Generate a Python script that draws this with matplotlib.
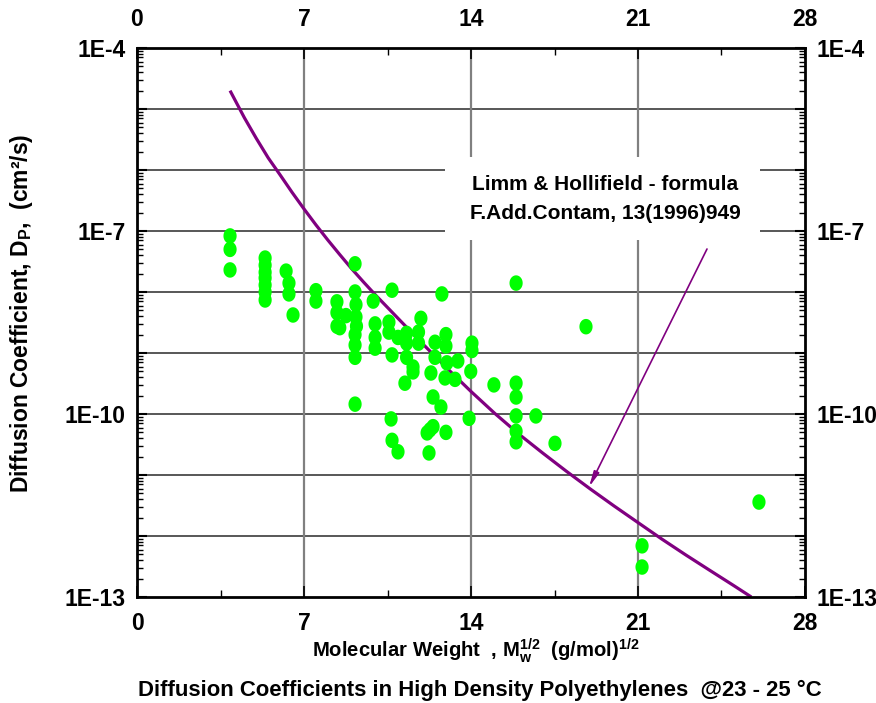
import matplotlib
matplotlib.use("Agg")
import matplotlib.pyplot as plt
import numpy as np
from matplotlib.ticker import FixedLocator, FuncFormatter, LogLocator, NullFormatter
from matplotlib.patches import Rectangle

# ---- data ----
pts_x = [3.9, 3.9, 3.9,
         5.37, 5.37, 5.37, 5.37, 5.37, 5.37, 5.37,
         6.25, 6.37, 6.37, 6.54, 7.5, 7.5,
         8.38, 8.38, 8.38, 8.5, 8.76,
         9.14, 9.14, 9.18, 9.18, 9.2, 9.14, 9.14, 9.14, 9.14,
         9.9, 9.98, 9.98, 9.98,
         10.56, 10.56, 10.69, 10.69, 10.65, 10.69, 10.94, 10.94,
         11.3, 11.3, 11.3, 11.23, 11.57, 11.57, 11.9, 11.8, 11.8,
         12.32, 12.41, 12.74, 12.16, 12.28, 12.41, 12.24, 12.49, 12.49,
         12.78, 12.95, 12.95, 12.99, 12.91, 13.33, 13.45, 12.95,
         14.04, 14.04, 13.99, 13.92, 14.96,
         15.89, 15.89, 15.89, 15.89, 15.89, 15.89,
         16.72, 17.52, 18.82, 21.17, 21.17, 26.07]
pts_d = [8.3e-8, 5.0e-8, 2.3e-8,
         3.6e-8, 2.75e-8, 2.1e-8, 1.7e-8, 1.3e-8, 1.0e-8, 7.4e-9,
         2.2e-8, 1.4e-8, 9.3e-9, 4.2e-9, 1.05e-8, 7.1e-9,
         6.9e-9, 4.6e-9, 2.75e-9, 2.6e-9, 4.1e-9,
         2.9e-8, 1.0e-8, 6.2e-9, 3.9e-9, 2.75e-9, 2.0e-9, 1.35e-9, 8.5e-10, 1.45e-10,
         7.1e-9, 3.0e-9, 1.8e-9, 1.2e-9,
         3.2e-9, 2.2e-9, 1.07e-8, 9.3e-10, 8.3e-11, 3.7e-11, 2.4e-11, 1.8e-9,
         2.1e-9, 1.45e-9, 8.5e-10, 3.2e-10, 5.9e-10, 4.9e-10, 3.7e-9, 2.2e-9, 1.45e-9,
         4.7e-10, 1.9e-10, 1.3e-10, 4.9e-11, 5.5e-11, 6.2e-11, 2.3e-11, 1.5e-9, 8.5e-10,
         9.3e-9, 2.0e-9, 1.3e-9, 6.9e-10, 3.9e-10, 3.7e-10, 7.4e-10, 5.0e-11,
         1.45e-9, 1.1e-9, 5.0e-10, 8.5e-11, 3.0e-10,
         1.4e-8, 3.2e-10, 1.9e-10, 9.3e-11, 5.2e-11, 3.5e-11,
         9.3e-11, 3.3e-11, 2.7e-9, 6.9e-13, 3.1e-13, 3.6e-12]

curve_x = [3.9, 4.5, 5.0, 5.5, 6.0, 6.5, 7.0, 7.5, 8.0, 8.5, 9.0, 9.5, 10, 11, 12,
           13, 14, 15, 16, 17, 18, 19, 20, 21, 22, 23, 24, 25, 25.75]
curve_d = [2.0e-5, 7.2e-6, 3.3e-6, 1.58e-6, 8.3e-7, 4.3e-7, 2.3e-7, 1.26e-7, 7.1e-8,
           4.1e-8, 2.4e-8, 1.45e-8, 8.9e-9, 3.5e-9, 1.38e-9, 5.6e-10, 2.34e-10,
           1.02e-10, 4.7e-11, 2.3e-11, 1.15e-11, 5.9e-12, 3.1e-12, 1.66e-12,
           8.9e-13, 4.9e-13, 2.75e-13, 1.55e-13, 1.0e-13]

x_ticks = [0, 7, 14, 21, 28]
x_minor = [3.5, 10.5, 17.5, 24.5]
y_label_exps = [-13, -10, -7, -4]

title_txt = "Diffusion Coefficients in High Density Polyethylenes  @23 - 25 \u00b0C"
xlabel_txt = "Molecular Weight  , M$_{w}^{1/2}$  (g/mol)$^{1/2}$"
ylabel_txt = "Diffusion Coefficient, D$_{P}$,  (cm\u00b2/s)"
ann_txt = "Limm & Hollifield - formula\nF.Add.Contam, 13(1996)949"

# ---- style ----
plt.rcParams['font.family'] = ['Liberation Sans', 'DejaVu Sans']
plt.rcParams['font.weight'] = 'bold'
plt.rcParams['axes.labelweight'] = 'bold'
plt.rcParams['mathtext.default'] = 'regular'

W, H = 876, 703
fig = plt.figure(figsize=(W/100, H/100), dpi=100)
L, R, T, B = 137, 805, 48, 597
ax = fig.add_axes([L/W, 1-B/H, (R-L)/W, (B-T)/H])

ax.set_xlim(0, 28)
ax.set_yscale('log')
ax.set_ylim(1e-13, 1e-4)

# grid
for e in range(-12, -4):
    ax.axhline(10.0**e, color='#2a2a2a', lw=1.1, zorder=1)
for xv in x_ticks[1:-1]:
    ax.axvline(xv, color='#808080', lw=1.6, zorder=1)

ax.plot(curve_x, curve_d, color='#800080', lw=2.3, zorder=3, solid_capstyle='butt')

# ellipse marker
t = np.linspace(0, 2*np.pi, 40)
ell = np.column_stack([np.cos(t)*0.85, np.sin(t)])
ax.scatter(pts_x, pts_d, marker=ell, s=125, color='#00ff00', edgecolors='none', zorder=4)

# annotation box (white, hides grid)
def px2x(px):
    return (px - L) / (R - L) * 28
def py2d(py):
    return 10 ** (-4 - (py - T) / ((B - T) / 9))
ax.add_patch(Rectangle((px2x(445), py2d(240)), px2x(760) - px2x(445),
                       py2d(157) - py2d(240), facecolor='white', edgecolor='none', zorder=2))
ax.text(px2x(605), py2d(199), ann_txt, ha='center', va='center',
        fontsize=15, linespacing=1.65, zorder=5)
ax.annotate('', xy=(px2x(589), py2d(487)), xytext=(px2x(707), py2d(249)),
            arrowprops=dict(arrowstyle='-|>,head_length=0.9,head_width=0.17',
                            color='#800080', lw=1.2, shrinkA=0, shrinkB=0), zorder=5)

# ticks
ax.xaxis.set_major_locator(FixedLocator(x_ticks))
ax.xaxis.set_minor_locator(FixedLocator(x_minor))
ax.yaxis.set_major_locator(LogLocator(base=10, numticks=20))
ax.yaxis.set_minor_locator(LogLocator(base=10, subs=np.arange(2, 10), numticks=20))
ax.yaxis.set_minor_formatter(NullFormatter())

def yfmt(v, pos):
    e = int(round(np.log10(v)))
    return f"1E{e}" if e in y_label_exps else ""
ax.yaxis.set_major_formatter(FuncFormatter(yfmt))

ax.tick_params(axis='both', which='both', direction='in', top=True, right=True,
               labeltop=False, labelright=True, labelsize=16.5, color='black')
ax.tick_params(axis='x', which='major', length=8, width=1.2, pad=11)
ax.tick_params(axis='x', which='minor', length=5, width=1.0)
ax.tick_params(axis='y', which='major', length=7, width=1.5, pad=8)
ax.tick_params(axis='y', which='minor', length=4, width=1.0)

# top labels
sec = ax.secondary_xaxis('top')
sec.set_xticks(x_ticks)
sec.tick_params(axis='x', which='both', length=0, pad=12, labelsize=16.5)
sec.xaxis.set_minor_locator(FixedLocator([]))
sec.spines['top'].set_visible(False)

for sp in ax.spines.values():
    sp.set_linewidth(2.0)
    sp.set_zorder(6)

ax.set_ylabel(ylabel_txt, fontsize=16.5, fontweight='bold')
ax.yaxis.set_label_coords((35 - L) / (R - L), (B - 313) / (B - T))
ax.set_xlabel(xlabel_txt, fontsize=14.6, fontweight='bold')
ax.xaxis.set_label_coords((476 - L) / (R - L), (B - 636) / (B - T))
fig.text(480 / W, 1 - 690 / H, title_txt, ha='center', va='center', fontsize=15.9,
         fontweight='bold')

fig.savefig('out.png', dpi=100)
